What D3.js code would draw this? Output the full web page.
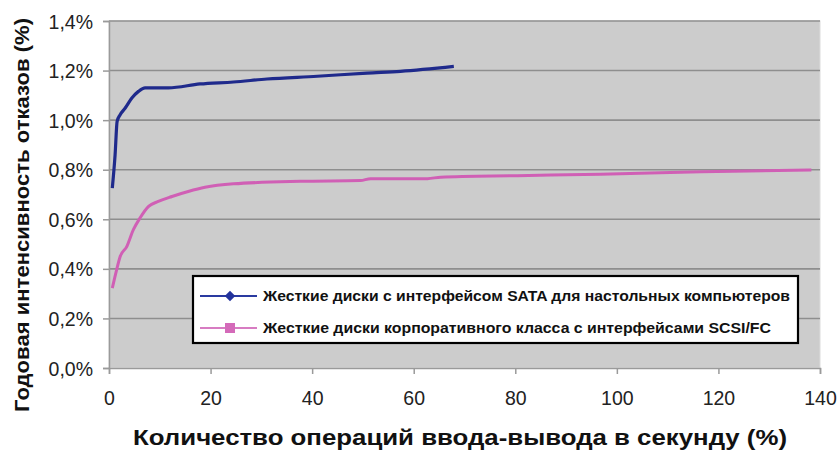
<!DOCTYPE html>
<html><head><meta charset="utf-8">
<script src="https://cdn.jsdelivr.net/npm/d3@7"></script>
<style>body{margin:0;background:#fff}svg{display:block}</style>
</head><body>
<svg id="c" width="840" height="450"></svg>
<script>
const sataX = [0.65,1.2,1.6,2.2,3.2,4.5,5.8,7.1,11.7,17.9,24.5,31.1,41,50.8,57.4,67.9];
const sataY = [0.726,0.86,0.995,1.022,1.049,1.089,1.116,1.13,1.13,1.146,1.154,1.166,1.177,1.19,1.197,1.217];
const scsiX = [0.65,1.5,2.2,3.5,4.8,6.1,7.8,9.7,12.4,15.6,18.9,24.5,37.7,49.5,51.5,62.7,65.3,80.4,96.8,116.6,138.3];
const scsiY = [0.322,0.396,0.45,0.49,0.558,0.605,0.652,0.672,0.692,0.712,0.729,0.743,0.753,0.756,0.764,0.764,0.77,0.776,0.782,0.792,0.799];
const xTicks = [0,20,40,60,80,100,120,140];
const yTicks = [0,0.2,0.4,0.6,0.8,1.0,1.2,1.4];
const seriesNames = ["Жесткие диски с интерфейсом SATA для настольных компьютеров","Жесткие диски корпоративного класса с интерфейсами SCSI/FC"];
const xTitle = "Количество операций ввода-вывода в секунду (%)";
const yTitle = "Годовая интенсивность отказов (%)";

const svg = d3.select("#c");
const L=109,R=820,T=21,B=368;
const x = d3.scaleLinear().domain([0,140]).range([L,R]);
const y = d3.scaleLinear().domain([0,1.4]).range([B,T]);
const font = "Arial, 'Liberation Sans', sans-serif";

svg.append("rect").attr("x",L).attr("y",T).attr("width",R-L).attr("height",B-T).attr("fill","#cccccc").attr("stroke","#dcdcdc").attr("stroke-width",1);

// gridlines
svg.append("g").selectAll("line").data(yTicks.filter(d=>d>0)).join("line")
  .attr("x1",L).attr("x2",R).attr("y1",d=>y(d)).attr("y2",d=>y(d))
  .attr("stroke","#8e8e8e").attr("stroke-width",1.6);

// y axis
const ya = svg.append("g").attr("transform",`translate(${L},0)`)
  .call(d3.axisLeft(y).tickValues(yTicks).tickSize(6).tickPadding(10)
    .tickFormat(d=>d3.format(".1f")(d).replace(".",",")+"%"));
ya.select(".domain").attr("stroke","#9a9a9a").attr("stroke-width",1.5);
ya.selectAll(".tick line").attr("stroke","#9a9a9a").attr("stroke-width",1.5);
ya.selectAll("text").attr("font-family",font).attr("font-size",19.5).attr("fill","#222").attr("dy","0.36em");

// x axis
const xa = svg.append("g").attr("transform",`translate(0,${B})`)
  .call(d3.axisBottom(x).tickValues(xTicks).tickSize(6).tickPadding(17));
xa.select(".domain").attr("stroke","#9a9a9a").attr("stroke-width",1.5);
xa.selectAll(".tick line").attr("stroke","#9a9a9a").attr("stroke-width",1.5);
xa.selectAll("text").attr("font-family",font).attr("font-size",19.5).attr("fill","#222");

const line = d3.line().x(d=>x(d[0])).y(d=>y(d[1])).curve(d3.curveMonotoneX);
svg.append("path").datum(scsiX.map((v,i)=>[v,scsiY[i]])).attr("d",line)
  .attr("fill","none").attr("stroke","#d05fb5").attr("stroke-width",3);
svg.append("path").datum(sataX.map((v,i)=>[v,sataY[i]])).attr("d",line)
  .attr("fill","none").attr("stroke","#1f2a8c").attr("stroke-width",3.2);

// legend
const lg = svg.append("g");
lg.append("rect").attr("x",193).attr("y",276).attr("width",605).attr("height",67)
  .attr("fill","#fff").attr("stroke","#000").attr("stroke-width",2.2);
const lcol = ["#23339c","#d46ab9"];
const lineCol = ["#2a3aa0","#d77cc2"];
const legLen = [527,508];
seriesNames.forEach((n,i)=>{
  const yy = 296 + i*32;
  lg.append("line").attr("x1",200).attr("x2",257).attr("y1",yy).attr("y2",yy).attr("stroke",lineCol[i]).attr("stroke-width",2);
  if(i===0){
    lg.append("path").attr("d",d3.symbol(d3.symbolDiamond2,70)()).attr("transform",`translate(230,${yy})`).attr("fill",lcol[i]);
  } else {
    lg.append("rect").attr("x",225).attr("y",yy-5).attr("width",10).attr("height",10).attr("fill",lcol[i]);
  }
  lg.append("text").attr("x",263).attr("y",yy).attr("dy","0.36em").text(n)
    .attr("font-family",font).attr("font-size",14).attr("font-weight","bold").attr("fill","#111")
    .attr("textLength",legLen[i]).attr("lengthAdjust","spacingAndGlyphs");
});

svg.append("text").attr("x",460).attr("y",437).attr("dy","0.36em").attr("text-anchor","middle")
  .attr("font-family",font).attr("font-size",22).attr("font-weight","bold").attr("fill","#111").text(xTitle)
  .attr("textLength",654).attr("lengthAdjust","spacingAndGlyphs");
svg.append("text").attr("transform","translate(22,215) rotate(-90)").attr("dy","0.36em").attr("text-anchor","middle")
  .attr("font-family",font).attr("font-size",20).attr("font-weight","bold").attr("fill","#111").text(yTitle)
  .attr("textLength",394).attr("lengthAdjust","spacingAndGlyphs");
</script>
</body></html>
